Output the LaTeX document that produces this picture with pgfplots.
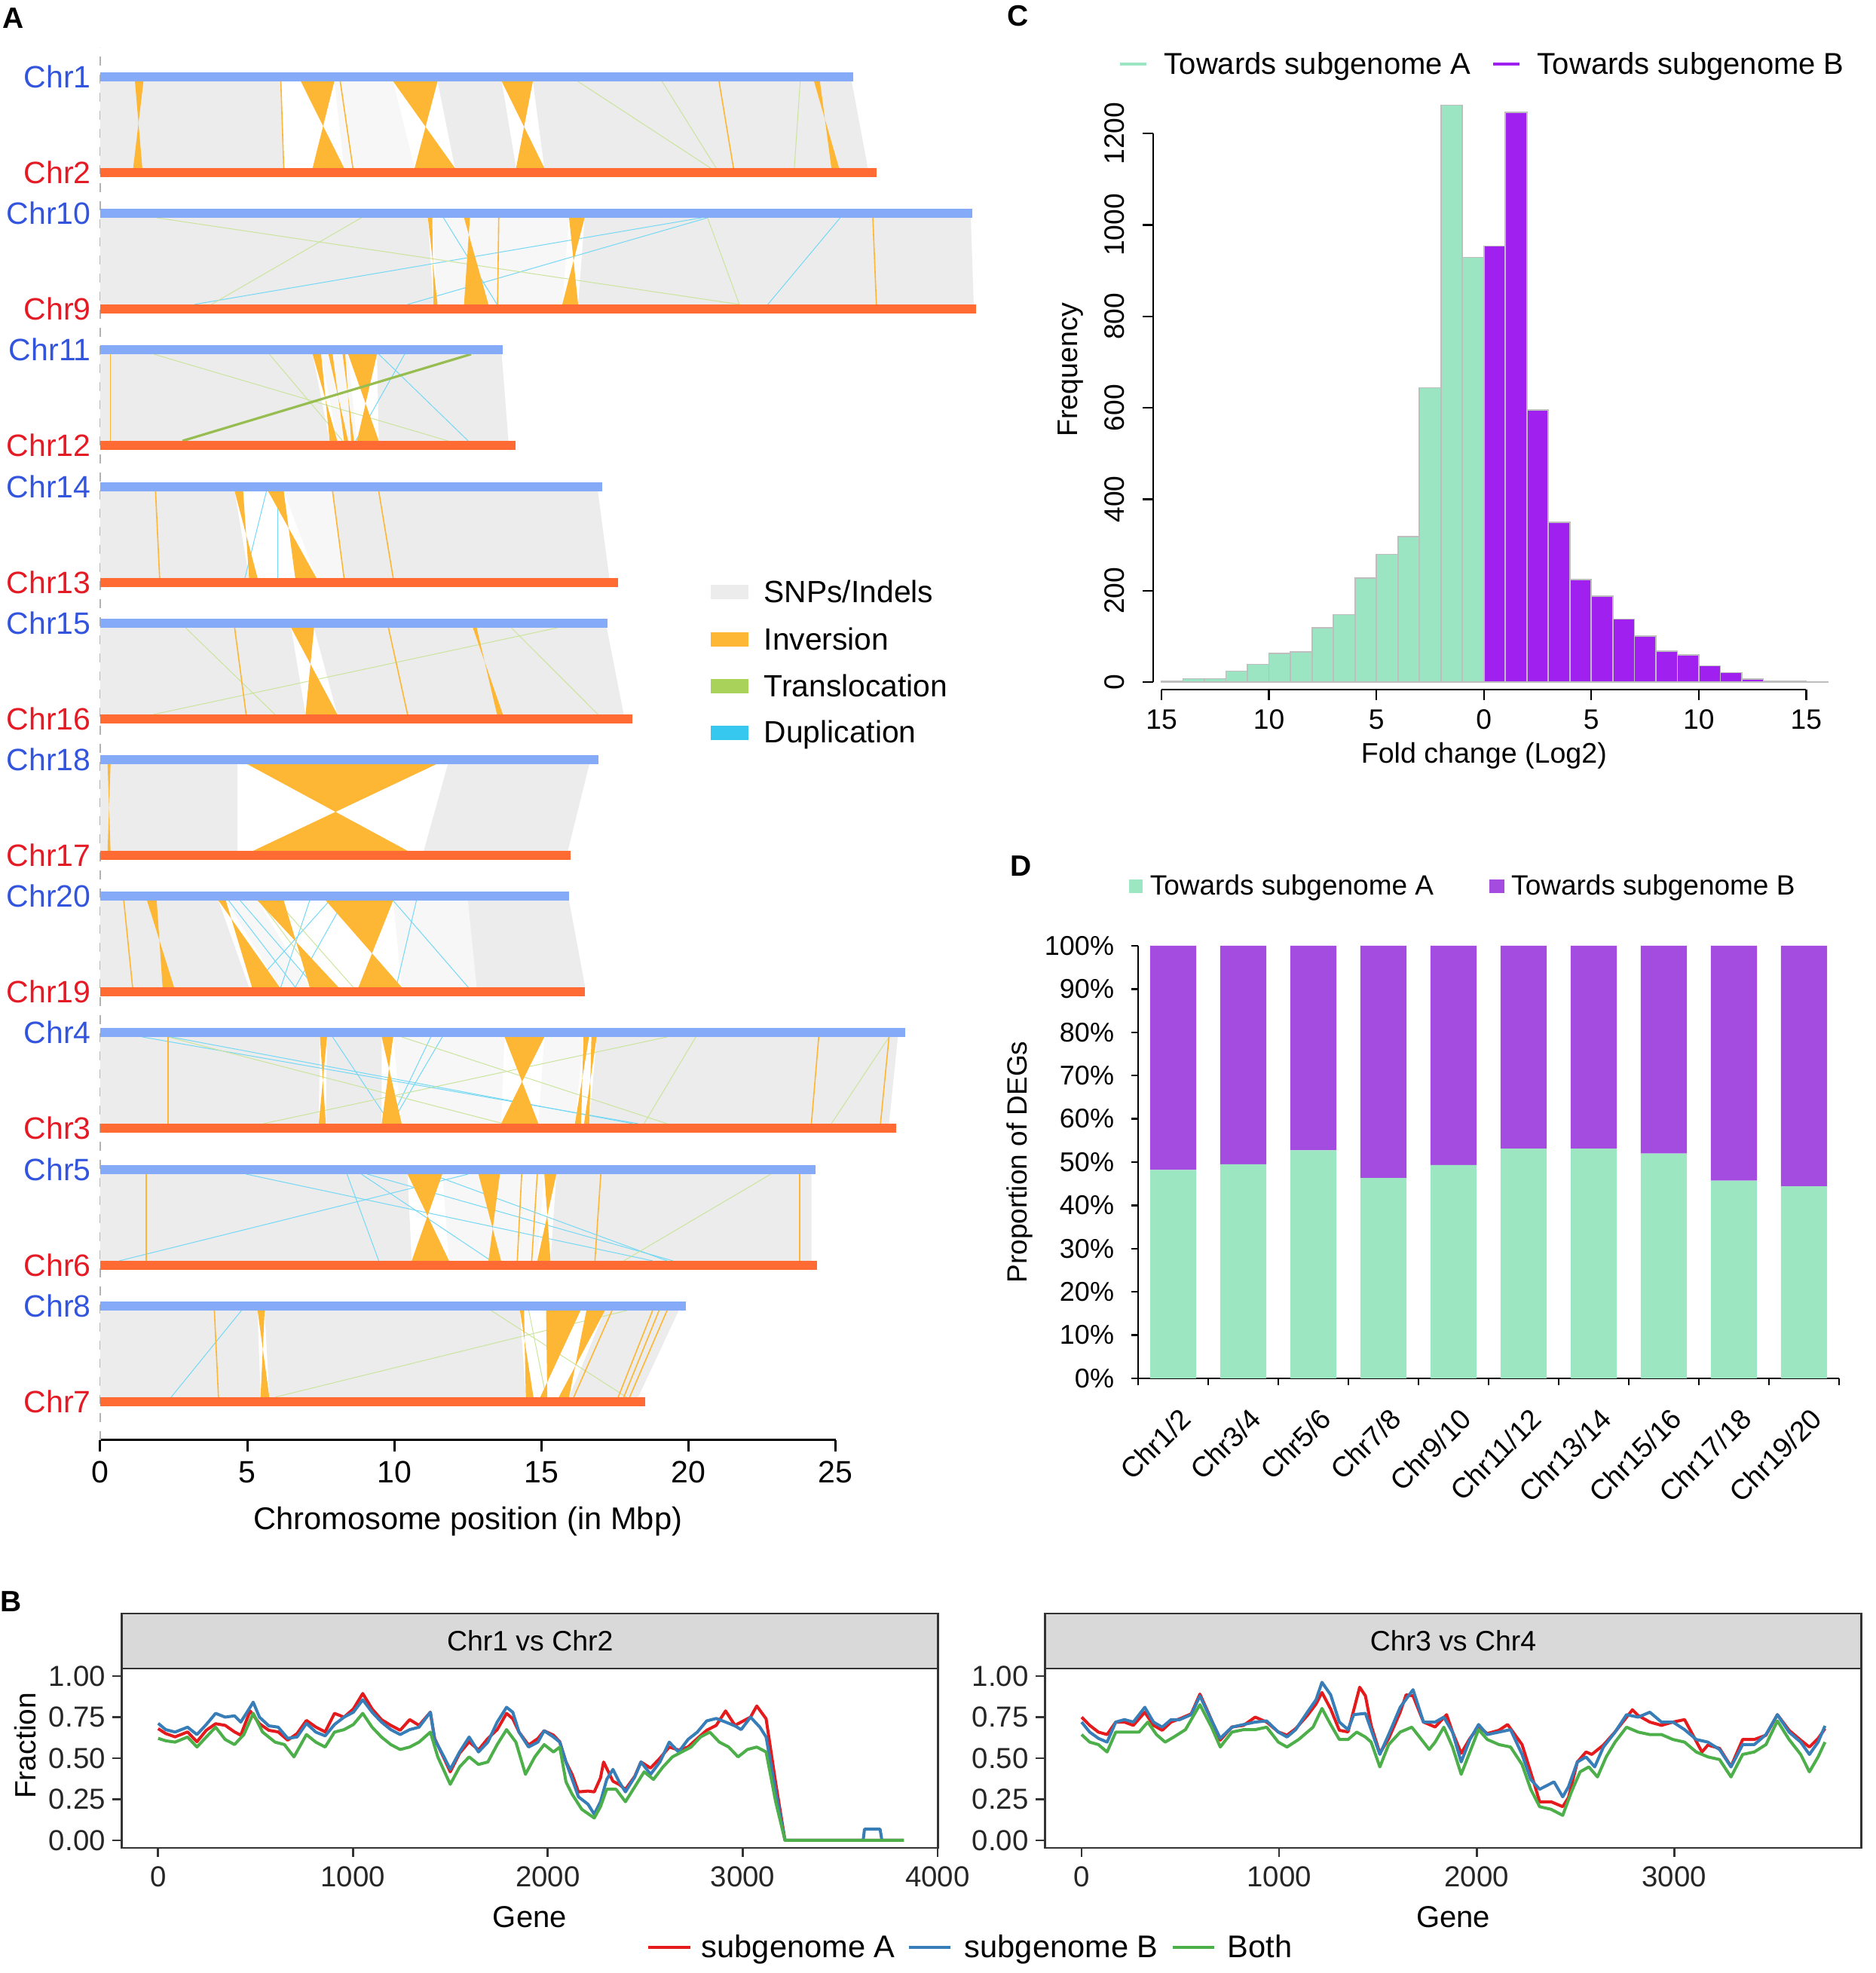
\documentclass[border=0pt]{standalone}
\usepackage{pgfplots}
\pgfplotsset{compat=1.18}
\usepackage{fontspec}
\setmainfont{Liberation Sans}
\definecolor{chrblue}{RGB}{51,85,221}
\definecolor{chrred}{RGB}{228,26,36}
\definecolor{barblue}{RGB}{133,170,247}
\definecolor{barorange}{RGB}{255,107,51}
\definecolor{invc}{RGB}{254,183,52}
\definecolor{trac}{RGB}{168,210,90}
\definecolor{dupc}{RGB}{55,200,240}
\definecolor{snpc}{RGB}{236,236,236}
\definecolor{lightc}{RGB}{247,247,247}
\definecolor{hgreen}{RGB}{155,229,195}
\definecolor{hpurple}{RGB}{160,32,240}
\definecolor{hborder}{RGB}{190,190,190}
\definecolor{dgreen}{RGB}{157,230,194}
\definecolor{dpurple}{RGB}{165,76,224}
\definecolor{lred}{RGB}{228,26,28}
\definecolor{lblue}{RGB}{55,126,184}
\definecolor{lgreen}{RGB}{77,175,74}
\definecolor{stripc}{RGB}{217,217,217}
\definecolor{framec}{RGB}{51,51,51}
\newcommand\fs[1]{\fontsize{#1}{#1}\selectfont}
\pgfplotsset{every axis/.append style={/pgf/number format/assume math mode=true}}
% synteny helpers (top y = \tY, bottom y = \bY)
\newcommand\gb[4]{\addplot[fill=snpc,draw=none] coordinates {(#1,\tY) (#2,\tY) (#4,\bY) (#3,\bY)} -- cycle;}
\newcommand\lb[4]{\addplot[fill=lightc,draw=none] coordinates {(#1,\tY) (#2,\tY) (#4,\bY) (#3,\bY)} -- cycle;}
\newcommand\iv[4]{\addplot[fill=invc,draw=none] coordinates {(#1,\tY) (#2,\tY) (#3,\bY) (#4,\bY)} -- cycle;}
\newcommand\il[2]{\addplot[invc,line width=0.4pt] coordinates {(#1,\tY) (#2,\bY)};}
\newcommand\tl[2]{\addplot[trac!60!white,line width=0.25pt] coordinates {(#1,\tY) (#2,\bY)};}
\newcommand\dl[2]{\addplot[dupc!70!white,line width=0.25pt] coordinates {(#1,\tY) (#2,\bY)};}
\newcommand\bars[2]{\addplot[barblue,line width=3pt] coordinates {(0,\yB) (#1,\yB)};
\addplot[barorange,line width=3pt] coordinates {(0,\yO) (#2,\yO)};}
\newcommand\clab[3]{\node[anchor=east,inner sep=0pt,text=#1,font=\fs{10.25pt}] at ([xshift=-2.9pt]axis cs:0,#2) {#3};}
\newcommand\dlab[2]{\node[rotate=45,anchor=north east,inner sep=0pt,font=\fs{9.4pt}] at ([shift={(1.7pt,-9.2pt)}]axis cs:#1,0) {#2};}
\begin{document}
\begin{tikzpicture}
\path[use as bounding box] (0,0) rectangle (622pt,654.5pt);
% ================= Panel A =================
\begin{axis}[at={(33.25pt,176.75pt)}, anchor=south west, scale only axis,
 width=243.875pt, height=455.25pt, xmin=0, xmax=25, ymin=707, ymax=2528,
 axis x line=bottom, axis y line=none, axis line style={-,line width=0.75pt,black},
 xtick={0,5,10,15,20,25}, xticklabels={0,5,10,15,20,25},
 tick align=outside, major tick length=3.75pt, tick style={line width=0.75pt,black},
 xticklabel style={font=\fs{10.25pt},anchor=base,inner sep=0pt}, xticklabel shift=10.4pt,
 clip=false]
\addplot[gray!60,dashed,line width=0.3pt] coordinates {(0,707) (0,2555)};
% track 0: Chr1 / Chr2
\def\yB{2516}\def\yO{2389}\def\tY{2510}\def\bY{2395}
\gb{0}{6.14}{0}{6.24}
\lb{7.96}{9.96}{8.29}{10.69}
\gb{11.47}{13.65}{12.06}{14.14}
\gb{14.71}{25.55}{15.10}{26.10}
\tl{16.24}{20.75}\tl{19.10}{20.94}\tl{23.8}{23.6}
\il{6.14}{6.24}\il{8.16}{8.59}\il{21.04}{21.53}
\iv{1.18}{1.47}{1.12}{1.43}
\iv{6.82}{7.96}{7.22}{8.29}
\iv{9.96}{11.47}{10.69}{12.06}
\iv{13.65}{14.71}{14.14}{15.10}
\iv{24.27}{24.47}{24.86}{25.12}
\bars{25.6}{26.4}
% track 1: Chr10 / Chr9
\def\yB{2335}\def\yO{2208}\def\tY{2329}\def\bY{2214}
\gb{0}{11.14}{0}{11.33}
\lb{11.29}{15.94}{11.47}{15.71}
\gb{16.47}{29.6}{16.25}{29.7}
\dl{11.67}{13.49}\dl{20.65}{10.45}\dl{20.45}{3.2}\dl{25.16}{22.7}
\tl{1.92}{21.73}\tl{8.88}{3.78}\tl{20.65}{21.73}
\iv{11.14}{11.29}{11.33}{11.47}
\iv{12.37}{12.57}{12.37}{13.2}
\il{13.55}{13.51}
\iv{15.94}{16.47}{15.71}{16.25}
\il{26.27}{26.39}
\bars{29.64}{29.79}
% track 2: Chr11 / Chr12
\def\yB{2154}\def\yO{2027}\def\tY{2148}\def\bY{2033}
\gb{0}{7.22}{0}{7.80}
\lb{7.51}{8.43}{8.06}{8.73}
\gb{9.41}{13.65}{9.47}{13.88}
\tl{1.82}{11.82}\tl{5.75}{8.24}
\dl{9.47}{12.51}\dl{10.35}{8.69}
\il{0.35}{0.35}
\iv{7.22}{7.51}{7.80}{8.06}
\iv{7.76}{7.90}{8.29}{8.43}
\iv{8.24}{8.33}{8.53}{8.63}
\iv{8.43}{9.41}{8.73}{9.47}
\addplot[trac!90!black,line width=0.8pt] coordinates {(12.61,\tY) (2.80,\bY)};
\bars{13.68}{14.13}
% track 3: Chr14 / Chr13
\def\yB{1972}\def\yO{1845}\def\tY{1966}\def\bY{1851}
\gb{0}{4.57}{0}{5.06}
\lb{6.24}{7.90}{7.35}{8.29}
\gb{7.90}{16.92}{8.29}{17.31}
\dl{5.65}{4.92}\dl{6.04}{6.04}
\il{7.90}{8.29}\il{1.88}{2.02}\il{9.47}{9.96}
\iv{4.57}{4.86}{5.06}{5.35}
\iv{5.71}{6.24}{6.63}{7.35}
\bars{17.06}{17.6}
% track 4: Chr15 / Chr16
\def\yB{1791}\def\yO{1664}\def\tY{1785}\def\bY{1670}
\gb{0}{6.49}{0}{6.98}
\gb{7.27}{17.22}{8.06}{17.80}
\tl{2.90}{5.94}\tl{15.55}{1.82}\tl{13.98}{16.92}
\il{4.57}{4.96}\il{9.80}{10.45}
\iv{6.49}{7.27}{6.98}{8.06}
\iv{12.67}{12.80}{13.49}{13.69}
\bars{17.25}{18.1}
% track 5: Chr18 / Chr17
\def\yB{1610}\def\yO{1483}\def\tY{1604}\def\bY{1489}
\gb{0}{4.67}{0}{4.67}
\gb{11.82}{16.63}{11.0}{15.9}
\iv{0.25}{0.35}{0.25}{0.35}
\iv{5.0}{11.43}{5.20}{10.45}
\bars{16.95}{15.98}
% track 6: Chr20 / Chr19
\def\yB{1429}\def\yO{1302}\def\tY{1423}\def\bY{1308}
\gb{0}{4.02}{0}{5.06}
\lb{4.27}{5.35}{6.10}{7.12}
\lb{9.96}{12.5}{10.25}{12.8}
\gb{12.5}{15.94}{12.8}{16.49}
\dl{4.37}{6.63}\dl{4.76}{7.31}\dl{7.80}{5.16}\dl{8.29}{6.63}\dl{9.96}{12.51}\dl{10.75}{10.06}\dl{7.12}{6.14}
\tl{5.4}{7.6}\tl{6.0}{8.6}
\il{0.8}{1.1}
\iv{1.59}{1.92}{2.12}{2.51}
\iv{4.02}{4.27}{5.16}{6.10}
\iv{5.35}{6.24}{7.12}{8.10}
\iv{7.67}{9.96}{8.78}{10.25}
\bars{15.94}{16.49}
% track 7: Chr4 / Chr3
\def\yB{1248}\def\yO{1121}\def\tY{1242}\def\bY{1127}
\gb{0}{7.47}{0}{7.43}
\gb{7.71}{9.57}{7.67}{9.57}
\lb{9.96}{13.75}{10.25}{13.63}
\lb{15.10}{16.43}{14.90}{16.14}
\gb{16.88}{27.12}{16.63}{26.82}
\dl{11.24}{9.82}\dl{11.63}{9.90}\dl{7.90}{9.86}\dl{1.43}{18.29}\dl{2.41}{18.10}
\tl{19.27}{5.55}\tl{20.25}{18.49}\tl{26.82}{24.86}\tl{10.25}{19.27}\tl{2.31}{13.7}
\il{2.31}{2.31}\il{24.43}{24.18}\il{26.82}{26.53}
\iv{7.47}{7.71}{7.43}{7.67}
\iv{9.57}{9.96}{9.57}{10.25}
\iv{13.75}{15.10}{13.63}{14.90}
\iv{16.43}{16.62}{16.14}{16.35}
\iv{16.70}{16.88}{16.45}{16.63}
\bars{27.37}{27.06}
% track 8: Chr5 / Chr6
\def\yB{1066}\def\yO{939}\def\tY{1060}\def\bY{945}
\gb{0}{10.45}{0}{10.59}
\lb{11.63}{15.10}{11.86}{14.86}
\gb{15.51}{24.18}{15.31}{24.18}
\dl{12.51}{0.65}\dl{4.96}{18.78}\dl{8.39}{9.47}\dl{8.88}{13.29}\dl{9.08}{19.47}\dl{11.24}{19.27}
\tl{22.80}{17.80}
\il{1.57}{1.57}\il{17.02}{16.82}\il{23.78}{23.78}\il{14.33}{14.18}\il{14.86}{14.67}
\iv{10.45}{11.63}{10.59}{11.86}
\iv{12.86}{13.59}{13.20}{13.63}
\iv{15.10}{15.51}{14.86}{15.31}
\bars{24.33}{24.37}
% track 9: Chr8 / Chr7
\def\yB{885}\def\yO{758}\def\tY{879}\def\bY{764}
\gb{0}{5.35}{0}{5.45}
\gb{5.59}{14.27}{5.75}{14.47}
\gb{17.16}{19.67}{15.94}{18.29}
\dl{4.80}{2.41}
\tl{13.29}{17.9}\tl{14.57}{15.16}\tl{17.9}{5.94}
\il{3.88}{4.02}\il{17.4}{16.1}\il{18.78}{17.61}\il{19.0}{17.8}\il{19.27}{18.0}
\iv{5.35}{5.59}{5.45}{5.75}
\iv{14.27}{14.41}{14.47}{14.73}
\iv{15.16}{16.33}{14.96}{15.20}
\iv{16.53}{17.16}{15.59}{15.94}
\bars{19.92}{18.53}
% chromosome labels
\clab{chrblue}{2516}{Chr1}\clab{chrred}{2389}{Chr2}
\clab{chrblue}{2335}{Chr10}\clab{chrred}{2208}{Chr9}
\clab{chrblue}{2154}{Chr11}\clab{chrred}{2027}{Chr12}
\clab{chrblue}{1972}{Chr14}\clab{chrred}{1845}{Chr13}
\clab{chrblue}{1791}{Chr15}\clab{chrred}{1664}{Chr16}
\clab{chrblue}{1610}{Chr18}\clab{chrred}{1483}{Chr17}
\clab{chrblue}{1429}{Chr20}\clab{chrred}{1302}{Chr19}
\clab{chrblue}{1248}{Chr4}\clab{chrred}{1121}{Chr3}
\clab{chrblue}{1066}{Chr5}\clab{chrred}{939}{Chr6}
\clab{chrblue}{885}{Chr8}\clab{chrred}{758}{Chr7}
% legend A
\fill[snpc] (axis cs:20.76,1822.8) rectangle (axis cs:22.04,1841.8);
\fill[invc] (axis cs:20.76,1759.7) rectangle (axis cs:22.04,1778.7);
\fill[trac] (axis cs:20.76,1697.9) rectangle (axis cs:22.04,1716.9);
\fill[dupc] (axis cs:20.76,1636.2) rectangle (axis cs:22.04,1655.2);
\node[anchor=base west,inner sep=0pt,font=\fs{10.2pt}] at (axis cs:22.55,1818.3) {SNPs/Indels};
\node[anchor=base west,inner sep=0pt,font=\fs{10.2pt}] at (axis cs:22.55,1755.2) {Inversion};
\node[anchor=base west,inner sep=0pt,font=\fs{10.2pt}] at (axis cs:22.55,1693.4) {Translocation};
\node[anchor=base west,inner sep=0pt,font=\fs{10.2pt}] at (axis cs:22.55,1632.4) {Duplication};
\end{axis}
\node[anchor=base,font=\fs{10.4pt}] at (155.2pt,147.05pt) {Chromosome position (in Mbp)};
\node[font=\bfseries\fs{9.75pt}] at (4.4pt,648.4pt) {A};
% ================= Panel B =================
\draw[fill=stripc,draw=framec,line width=0.7pt] (40.43pt,101pt) rectangle (311.18pt,119.25pt);
\draw[fill=stripc,draw=framec,line width=0.7pt] (346.63pt,101pt) rectangle (617.38pt,119.25pt);
\node[anchor=base,font=\fs{9.35pt}] at (175.8pt,106.8pt) {Chr1 vs Chr2};
\node[anchor=base,font=\fs{9.35pt}] at (482pt,106.8pt) {Chr3 vs Chr4};
\pgfplotsset{bstyle/.style={anchor=south west, scale only axis, width=270.75pt, height=59.5pt,
 ymin=-0.0459, ymax=1.0459, axis line style={framec,line width=0.7pt},
 ytick={0,0.25,0.5,0.75,1}, yticklabels={0.00,0.25,0.50,0.75,1.00},
 xtick pos=bottom, ytick pos=left, tick align=outside, major tick length=3.1pt,
 tick style={framec,line width=0.7pt},
 xticklabel style={font=\fs{9.6pt},anchor=base,inner sep=0pt,text=black!85},
 yticklabel style={font=\fs{9.6pt},anchor=east,inner sep=0pt,text=black!85},
 xticklabel shift=9.8pt, yticklabel shift=2.2pt, clip=false}}
\begin{axis}[bstyle, at={(40.43pt,41.5pt)}, xmin=-186, xmax=4003,
 xtick={0,1000,2000,3000,4000}, xticklabels={0,1000,2000,3000,4000}]
\addplot[lred,line width=1pt,line join=round] coordinates {(0,0.68) (39,0.65) (87,0.63) (151,0.66) (199,0.60) (247,0.67) (295,0.71) (344,0.70) (392,0.66) (424,0.64) (472,0.788) (520,0.71) (568,0.67) (616,0.66) (665,0.61) (713,0.65) (761,0.73) (809,0.69) (857,0.66) (905,0.773) (954,0.75) (1002,0.80) (1050,0.894) (1098,0.80) (1146,0.735) (1194,0.70) (1242,0.67) (1291,0.735) (1339,0.70) (1397,0.78) (1419,0.62) (1467,0.50) (1499,0.417) (1547,0.53) (1596,0.60) (1644,0.55) (1692,0.62) (1740,0.674) (1788,0.773) (1820,0.74) (1852,0.659) (1901,0.58) (1949,0.62) (1981,0.667) (2029,0.64) (2061,0.60) (2093,0.477) (2125,0.40) (2157,0.295) (2206,0.30) (2238,0.295) (2270,0.38) (2286,0.477) (2334,0.36) (2366,0.34) (2398,0.31) (2446,0.39) (2478,0.477) (2527,0.44) (2575,0.50) (2623,0.568) (2671,0.55) (2719,0.568) (2767,0.62) (2815,0.67) (2864,0.70) (2912,0.788) (2960,0.70) (2992,0.72) (3040,0.75) (3072,0.818) (3120,0.74) (3169,0.35) (3217,0) (3827,0)};
\addplot[lblue,line width=1pt,line join=round] coordinates {(0,0.712) (39,0.674) (87,0.659) (151,0.689) (199,0.644) (247,0.705) (295,0.773) (344,0.75) (392,0.758) (424,0.72) (472,0.81) (488,0.841) (520,0.75) (568,0.697) (616,0.689) (665,0.621) (713,0.629) (761,0.712) (809,0.659) (857,0.636) (905,0.705) (954,0.75) (1002,0.78) (1050,0.856) (1098,0.78) (1146,0.72) (1194,0.674) (1242,0.644) (1291,0.674) (1339,0.689) (1397,0.78) (1419,0.614) (1467,0.508) (1499,0.432) (1547,0.538) (1596,0.629) (1644,0.538) (1692,0.598) (1740,0.72) (1788,0.81) (1820,0.78) (1852,0.659) (1901,0.568) (1949,0.598) (1981,0.667) (2029,0.629) (2061,0.598) (2093,0.477) (2125,0.371) (2157,0.265) (2206,0.22) (2238,0.159) (2270,0.235) (2302,0.371) (2334,0.432) (2366,0.356) (2398,0.295) (2446,0.386) (2478,0.477) (2527,0.402) (2575,0.477) (2623,0.598) (2671,0.538) (2719,0.614) (2767,0.659) (2815,0.727) (2864,0.742) (2912,0.72) (2960,0.697) (2992,0.674) (3040,0.75) (3088,0.689) (3120,0.629) (3169,0.295) (3217,0) (3618,0) (3625,0.068) (3705,0.068) (3714,0) (3827,0)};
\addplot[lgreen,line width=1pt,line join=round] coordinates {(0,0.621) (39,0.606) (87,0.598) (151,0.629) (199,0.568) (247,0.629) (295,0.689) (344,0.614) (392,0.583) (440,0.644) (488,0.773) (536,0.659) (600,0.598) (648,0.583) (697,0.508) (761,0.644) (809,0.598) (857,0.568) (905,0.659) (954,0.674) (1002,0.705) (1050,0.773) (1098,0.689) (1146,0.629) (1194,0.583) (1242,0.553) (1291,0.568) (1339,0.598) (1397,0.659) (1435,0.508) (1499,0.341) (1547,0.447) (1596,0.508) (1644,0.462) (1692,0.477) (1740,0.583) (1788,0.674) (1836,0.598) (1885,0.402) (1933,0.508) (1981,0.583) (2029,0.538) (2061,0.568) (2093,0.356) (2125,0.280) (2174,0.189) (2238,0.136) (2270,0.205) (2302,0.311) (2350,0.311) (2398,0.235) (2446,0.326) (2494,0.417) (2542,0.371) (2591,0.447) (2639,0.508) (2687,0.538) (2735,0.568) (2783,0.629) (2831,0.659) (2880,0.598) (2928,0.568) (2976,0.508) (3024,0.553) (3072,0.568) (3120,0.538) (3169,0.235) (3217,0) (3827,0)};
\end{axis}
\begin{axis}[bstyle, at={(346.63pt,41.5pt)}, xmin=-185, xmax=3948,
 xtick={0,1000,2000,3000}, xticklabels={0,1000,2000,3000}]
\addplot[lred,line width=1pt,line join=round] coordinates {(0,0.75) (41,0.70) (85,0.659) (129,0.644) (173,0.72) (217,0.72) (262,0.70) (320,0.78) (364,0.70) (408,0.67) (453,0.72) (497,0.74) (555,0.77) (599,0.89) (644,0.77) (702,0.61) (761,0.69) (820,0.70) (879,0.75) (937,0.72) (996,0.66) (1040,0.64) (1084,0.68) (1143,0.76) (1187,0.83) (1217,0.90) (1261,0.80) (1305,0.67) (1349,0.66) (1408,0.932) (1437,0.88) (1466,0.70) (1510,0.53) (1555,0.62) (1613,0.78) (1643,0.886) (1678,0.88) (1731,0.72) (1790,0.69) (1848,0.765) (1878,0.66) (1922,0.53) (1966,0.62) (2010,0.69) (2054,0.65) (2113,0.67) (2157,0.705) (2230,0.583) (2289,0.356) (2319,0.235) (2377,0.235) (2436,0.205) (2465,0.26) (2510,0.477) (2554,0.538) (2583,0.523) (2642,0.58) (2701,0.66) (2789,0.795) (2818,0.76) (2877,0.72) (2936,0.70) (2994,0.72) (3053,0.735) (3141,0.538) (3171,0.58) (3230,0.56) (3288,0.45) (3347,0.614) (3406,0.614) (3465,0.64) (3523,0.765) (3582,0.67) (3641,0.61) (3685,0.568) (3729,0.62) (3764,0.68)};
\addplot[lblue,line width=1pt,line join=round] coordinates {(0,0.72) (41,0.659) (85,0.621) (129,0.598) (173,0.72) (217,0.735) (262,0.72) (320,0.81) (364,0.72) (408,0.689) (453,0.735) (497,0.735) (555,0.765) (599,0.879) (644,0.765) (702,0.621) (761,0.689) (820,0.705) (879,0.72) (937,0.727) (996,0.659) (1040,0.629) (1084,0.674) (1143,0.78) (1187,0.856) (1217,0.962) (1261,0.886) (1305,0.72) (1349,0.674) (1378,0.765) (1437,0.773) (1466,0.674) (1510,0.523) (1555,0.644) (1613,0.81) (1678,0.917) (1731,0.72) (1790,0.72) (1834,0.75) (1878,0.659) (1922,0.477) (1966,0.614) (2010,0.705) (2054,0.644) (2113,0.659) (2172,0.674) (2230,0.523) (2274,0.371) (2319,0.311) (2392,0.356) (2436,0.265) (2465,0.326) (2510,0.477) (2554,0.508) (2598,0.447) (2642,0.568) (2701,0.659) (2759,0.765) (2818,0.75) (2877,0.78) (2936,0.72) (2994,0.72) (3053,0.674) (3112,0.614) (3171,0.598) (3230,0.553) (3288,0.447) (3347,0.583) (3406,0.583) (3465,0.644) (3523,0.765) (3582,0.659) (3641,0.598) (3685,0.523) (3729,0.598) (3764,0.697)};
\addplot[lgreen,line width=1pt,line join=round] coordinates {(0,0.644) (41,0.598) (85,0.583) (129,0.538) (173,0.659) (235,0.659) (291,0.659) (335,0.72) (379,0.644) (423,0.598) (467,0.629) (526,0.674) (599,0.826) (658,0.689) (702,0.568) (761,0.659) (820,0.674) (879,0.674) (937,0.689) (996,0.598) (1040,0.568) (1099,0.614) (1172,0.689) (1217,0.803) (1261,0.705) (1305,0.614) (1349,0.614) (1393,0.659) (1437,0.629) (1466,0.598) (1510,0.447) (1555,0.583) (1613,0.659) (1672,0.689) (1731,0.598) (1760,0.553) (1790,0.598) (1834,0.689) (1878,0.568) (1922,0.402) (1966,0.538) (2010,0.674) (2054,0.614) (2113,0.583) (2172,0.568) (2230,0.462) (2274,0.311) (2319,0.205) (2377,0.189) (2436,0.152) (2480,0.295) (2524,0.417) (2568,0.447) (2612,0.386) (2656,0.508) (2701,0.598) (2759,0.689) (2818,0.659) (2877,0.644) (2936,0.644) (2994,0.614) (3053,0.598) (3112,0.538) (3171,0.508) (3230,0.492) (3288,0.386) (3347,0.523) (3406,0.538) (3465,0.583) (3523,0.727) (3582,0.614) (3641,0.523) (3685,0.417) (3729,0.508) (3764,0.598)};
\end{axis}
\node[rotate=90,font=\fs{9.75pt}] at (8.3pt,75.4pt) {Fraction};
\node[anchor=base,font=\fs{10pt}] at (175.7pt,15.1pt) {Gene};
\node[anchor=base,font=\fs{10pt}] at (482pt,15.1pt) {Gene};
\draw[lred,line width=1.2pt] (215pt,8.5pt) -- (229pt,8.5pt);
\draw[lblue,line width=1.2pt] (301.5pt,8.5pt) -- (315.25pt,8.5pt);
\draw[lgreen,line width=1.2pt] (389pt,8.5pt) -- (402.75pt,8.5pt);
\node[anchor=base west,inner sep=0pt,font=\fs{10.4pt}] at (232.5pt,5.25pt) {subgenome A};
\node[anchor=base west,inner sep=0pt,font=\fs{10.4pt}] at (319.75pt,5.25pt) {subgenome B};
\node[anchor=base west,inner sep=0pt,font=\fs{10.4pt}] at (407pt,5.25pt) {Both};
\node[font=\bfseries\fs{9.75pt}] at (3.6pt,123.25pt) {B};
% ================= Panel C =================
\begin{axis}[at={(385.28pt,425.75pt)}, anchor=south west, scale only axis,
 width=213.8pt, height=184.48pt, xmin=-15, xmax=15, ymin=-16, ymax=1200,
 axis x line=bottom, axis y line=none, axis line style={-,line width=0.6pt,black},
 xtick={-15,-10,-5,0,5,10,15}, xticklabels={15,10,5,0,5,10,15},
 tick align=outside, major tick length=3.5pt, tick style={line width=0.6pt,black},
 xticklabel style={font=\fs{9.3pt},anchor=base,inner sep=0pt}, xticklabel shift=9.6pt,
 clip=false]
\addplot[ybar interval,fill=hgreen,draw=hborder,line width=0.4pt] coordinates {(-15,2) (-14,8) (-13,8) (-12,24) (-11,39) (-10,63) (-9,66) (-8,119) (-7,148) (-6,228) (-5,280) (-4,318) (-3,644) (-2,1262) (-1,929) (0,0)};
\addplot[ybar interval,fill=hpurple,draw=hborder,line width=0.4pt] coordinates {(0,954) (1,1246) (2,595) (3,350) (4,225) (5,188) (6,138) (7,101) (8,68) (9,60) (10,36) (11,21) (12,7) (13,3) (14,3) (15,1) (16,0)};
\end{axis}
\begin{axis}[at={(382.45pt,428.18pt)}, anchor=south west, scale only axis,
 width=1pt, height=182.05pt, xmin=0, xmax=1, ymin=0, ymax=1200,
 axis y line=left, axis x line=none, axis line style={-,line width=0.6pt,black},
 ytick={0,200,400,600,800,1000,1200}, yticklabels={0,200,400,600,800,1000,1200},
 tick align=outside, major tick length=3.5pt, tick style={line width=0.6pt,black},
 yticklabel style={font=\fs{9.3pt},rotate=90,anchor=base,inner sep=0pt}, yticklabel shift=6.2pt]
\end{axis}
\draw[hgreen,line width=1pt] (371.5pt,633.25pt) -- (380.25pt,633.25pt);
\draw[hpurple,line width=1pt] (495.25pt,633.25pt) -- (504pt,633.25pt);
\node[anchor=base west,inner sep=0pt,font=\fs{10pt}] at (386pt,629.95pt) {Towards subgenome A};
\node[anchor=base west,inner sep=0pt,font=\fs{10pt}] at (509.75pt,629.95pt) {Towards subgenome B};
\node[font=\fs{9.4pt}] at (492.2pt,403.9pt) {Fold change (Log2)};
\node[rotate=90,font=\fs{9.4pt}] at (355.15pt,531.75pt) {Frequency};
\node[font=\bfseries\fs{9.75pt}] at (337.75pt,649.25pt) {C};
% ================= Panel D =================
\begin{axis}[at={(377.5pt,197.25pt)}, anchor=south west, scale only axis,
 width=232.5pt, height=143.5pt, xmin=-0.5, xmax=9.5, ymin=0, ymax=100,
 axis x line=bottom, axis y line=left, axis line style={-,line width=0.6pt,black},
 ybar stacked, bar width=15.35pt,
 xtick={-0.5,0.5,...,9.5}, xticklabel=\empty,
 ytick={0,10,...,100}, yticklabels={0\%,10\%,20\%,30\%,40\%,50\%,60\%,70\%,80\%,90\%,100\%},
 tick align=outside, major tick length=2.2pt, tick style={line width=0.6pt,black},
 yticklabel style={font=\fs{9pt},anchor=east,inner sep=0pt}, yticklabel shift=5.6pt,
 clip=false]
\addplot[fill=dgreen,draw=none] coordinates {(0,48.2) (1,49.5) (2,52.7) (3,46.3) (4,49.3) (5,53.1) (6,53.1) (7,52.0) (8,45.7) (9,44.4)};
\addplot[fill=dpurple,draw=none] coordinates {(0,51.8) (1,50.5) (2,47.3) (3,53.7) (4,50.7) (5,46.9) (6,46.9) (7,48.0) (8,54.3) (9,55.6)};
\dlab{0}{Chr1/2}\dlab{1}{Chr3/4}\dlab{2}{Chr5/6}\dlab{3}{Chr7/8}\dlab{4}{Chr9/10}
\dlab{5}{Chr11/12}\dlab{6}{Chr13/14}\dlab{7}{Chr15/16}\dlab{8}{Chr17/18}\dlab{9}{Chr19/20}
\end{axis}
\fill[dgreen] (374.6pt,358.25pt) rectangle (379pt,362.75pt);
\fill[dpurple] (494.1pt,358.25pt) rectangle (498.9pt,362.75pt);
\node[anchor=base west,inner sep=0pt,font=\fs{9.25pt}] at (381.25pt,357.6pt) {Towards subgenome A};
\node[anchor=base west,inner sep=0pt,font=\fs{9.25pt}] at (501.1pt,357.6pt) {Towards subgenome B};
\node[rotate=90,font=\fs{9.25pt}] at (338.25pt,269pt) {Proportion of DEGs};
\node[font=\bfseries\fs{9.75pt}] at (338.75pt,367.25pt) {D};
\end{tikzpicture}
\end{document}
